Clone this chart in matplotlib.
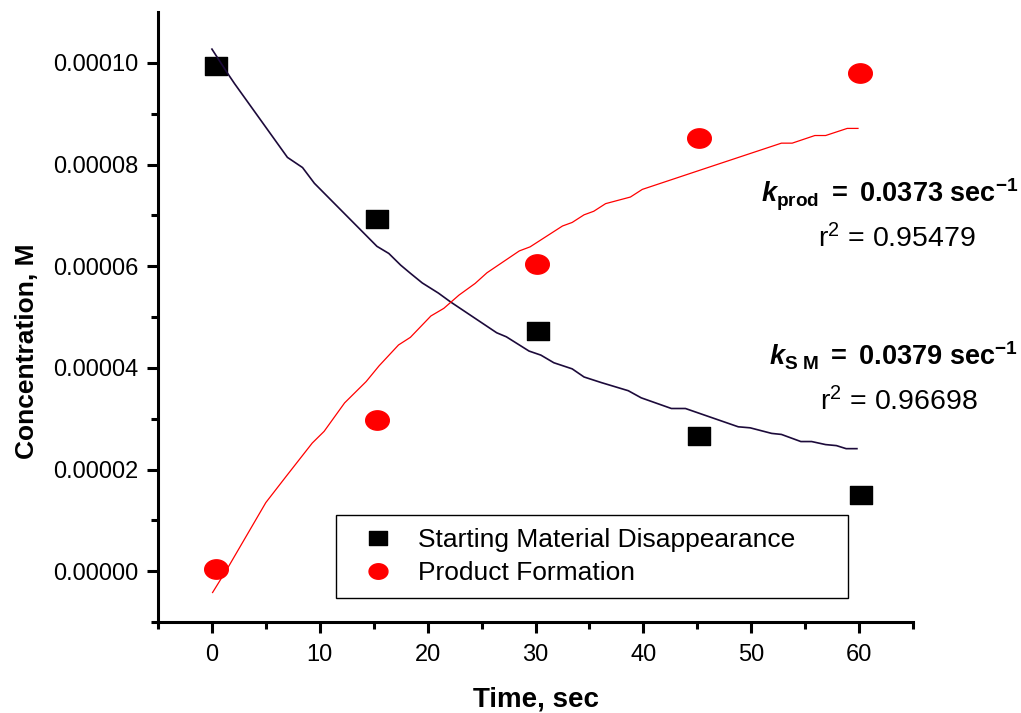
import numpy as np
import matplotlib
matplotlib.use('Agg')
import matplotlib.pyplot as plt
from matplotlib.path import Path
from matplotlib.ticker import FixedLocator, StrMethodFormatter

plt.rcParams['font.family'] = ['Liberation Sans', 'DejaVu Sans']
plt.rcParams['mathtext.fontset'] = 'custom'
plt.rcParams['mathtext.rm'] = 'Liberation Sans'
plt.rcParams['mathtext.it'] = 'Liberation Sans:italic'
plt.rcParams['mathtext.bf'] = 'Liberation Sans:bold'
try:
    plt.rcParams['mathtext.bfit'] = 'Liberation Sans:bold:italic'
    HAS_BFIT = True
except KeyError:
    HAS_BFIT = False

# ---- data ----
sm_t = [0.4, 15.3, 30.2, 45.2, 60.2]
sm_c = [99.4e-6, 69.3e-6, 47.3e-6, 26.5e-6, 14.9e-6]
prod_t = [0.4, 15.3, 30.1, 45.2, 60.1]
prod_c = [0.4e-6, 29.7e-6, 60.5e-6, 85.3e-6, 98.0e-6]

sm_fit_t = [0, 1.4, 2.1, 7.0, 8.4, 9.5, 15.3, 16.4, 17.5, 18.4, 19.5, 21.0, 22.1,
            26.4, 27.3, 29.4, 30.5, 31.7, 33.4, 34.5, 36.1, 38.6, 39.8, 42.6, 43.9,
            48.8, 49.9, 51.9, 52.8, 54.6, 55.6, 56.9, 57.9, 58.8, 59.8]
sm_fit_c_micro = [102.7, 98.1, 95.9, 81.4, 79.4, 76.3, 63.9, 62.5, 60.2, 58.6, 56.7, 54.7, 53.0,
                  46.9, 46.1, 43.3, 42.5, 41.0, 39.8, 38.2, 37.1, 35.5, 34.1, 32.0, 32.0,
                  28.4, 28.2, 27.1, 26.9, 25.5, 25.5, 24.9, 24.7, 24.1, 24.1]
prod_fit_t = [0.06, 1.4, 5.0, 6.9, 9.3, 10.4, 12.3, 14.3, 15.5, 17.3, 18.4, 20.3, 21.5,
              22.9, 24.4, 25.5, 28.5, 29.5, 32.5, 33.4, 34.5, 35.4, 36.5, 38.8, 39.9,
              45.7, 52.8, 53.8, 55.9, 56.9, 58.9, 59.9]
prod_fit_c_micro = [-4.2, 0.4, 13.5, 18.7, 25.2, 27.5, 33.1, 37.3, 40.4, 44.5, 46.0, 50.2, 51.7,
                    54.3, 56.6, 58.7, 63.0, 63.8, 67.9, 68.6, 70.1, 70.8, 72.3, 73.6, 75.1,
                    79.2, 84.2, 84.2, 85.7, 85.7, 87.1, 87.1]

x_major = [0, 10, 20, 30, 40, 50, 60]
x_minor = [-5, 5, 15, 25, 35, 45, 55, 65]
y_major = [0.0, 0.00002, 0.00004, 0.00006, 0.00008, 0.00010]
y_minor = [-0.00001, 0.00001, 0.00003, 0.00005, 0.00007, 0.00009]

legend_labels = ['Starting Material Disappearance', 'Product Formation']

# ---- markers ----
rect_marker = Path([(-1, -0.8), (1, -0.8), (1, 0.8), (-1, 0.8), (-1, -0.8)],
                   [Path.MOVETO, Path.LINETO, Path.LINETO, Path.LINETO, Path.CLOSEPOLY])
th = np.linspace(0, 2 * np.pi, 64)
ell_marker = Path(np.column_stack([np.cos(th), 0.82 * np.sin(th)]))

W, H = 1021, 713
fig = plt.figure(figsize=(W / 100, H / 100), dpi=100)
ax = fig.add_axes([158 / W, 1 - 622 / H, (913 - 158) / W, (622 - 12) / H])

ax.plot(sm_fit_t, np.array(sm_fit_c_micro) * 1e-6, color='#1c0a3a', lw=1.2, zorder=3)
ax.plot(prod_fit_t, np.array(prod_fit_c_micro) * 1e-6, color='#ff0000', lw=0.9, zorder=3)
h1, = ax.plot(sm_t, sm_c, ls='none', marker=rect_marker, ms=15.5, color='black', mec='black', zorder=2)
h2, = ax.plot(prod_t, prod_c, ls='none', marker=ell_marker, ms=17, color='#ff0000', mec='#ff0000', zorder=2)

ax.set_xlim(-5, 65)
ax.set_ylim(-0.00001, 0.00011)
ax.spines['top'].set_visible(False)
ax.spines['right'].set_visible(False)
for s in ['left', 'bottom']:
    ax.spines[s].set_linewidth(2.2)

ax.xaxis.set_major_locator(FixedLocator(x_major))
ax.xaxis.set_minor_locator(FixedLocator(x_minor))
ax.yaxis.set_major_locator(FixedLocator(y_major))
ax.yaxis.set_minor_locator(FixedLocator(y_minor))
ax.yaxis.set_major_formatter(StrMethodFormatter('{x:.5f}'))
ax.tick_params(which='major', direction='out', length=8, width=2.2, labelsize=17, pad=6)
ax.tick_params(which='minor', direction='out', length=5, width=2.2)
ax.tick_params(axis='x', which='major', pad=8)

ax.set_xlabel('Time, sec', fontsize=20, fontweight='bold')
ax.set_ylabel('Concentration, M', fontsize=19, fontweight='bold')
ax.xaxis.set_label_coords(0.5, -0.106)
ax.yaxis.set_label_coords(-0.157, 0.444)

leg = ax.legend([h1, h2], legend_labels, loc='upper left',
                bbox_to_anchor=(336 / W, 1 - 600 / H, 512 / W, 85 / H),
                bbox_transform=fig.transFigure, mode='expand', borderaxespad=0,
                fontsize=19, frameon=True, fancybox=False, shadow=False,
                edgecolor='black', framealpha=1, borderpad=0.5, labelspacing=0.33,
                handlelength=2.2, handletextpad=0.4, markerscale=0.8)
leg.get_frame().set_linewidth(1.0)

kfont = r'\mathbfit' if HAS_BFIT else r'\mathbf'
kprod = '$' + kfont + r'{k}_{\mathbf{prod}}\ {\mathbf{=}}\ \mathbf{0.0373\ sec}^{\mathbf{-1}}$'
ksm = '$' + kfont + r'{k}_{\mathbf{S\ M}}\ {\mathbf{=}}\ \mathbf{0.0379\ sec}^{\mathbf{-1}}$'

fig.text(1018 / W, 1 - 202 / H, kprod, fontsize=19.5, ha='right', va='baseline')
fig.text(897 / W, 1 - 247 / H, r'r$^{2}$ = 0.95479', fontsize=20.5, ha='center', va='baseline')
fig.text(1018 / W, 1 - 365 / H, ksm, fontsize=19.5, ha='right', va='baseline')
fig.text(899 / W, 1 - 410 / H, r'r$^{2}$ = 0.96698', fontsize=20.5, ha='center', va='baseline')

fig.savefig('out.png', dpi=100)
